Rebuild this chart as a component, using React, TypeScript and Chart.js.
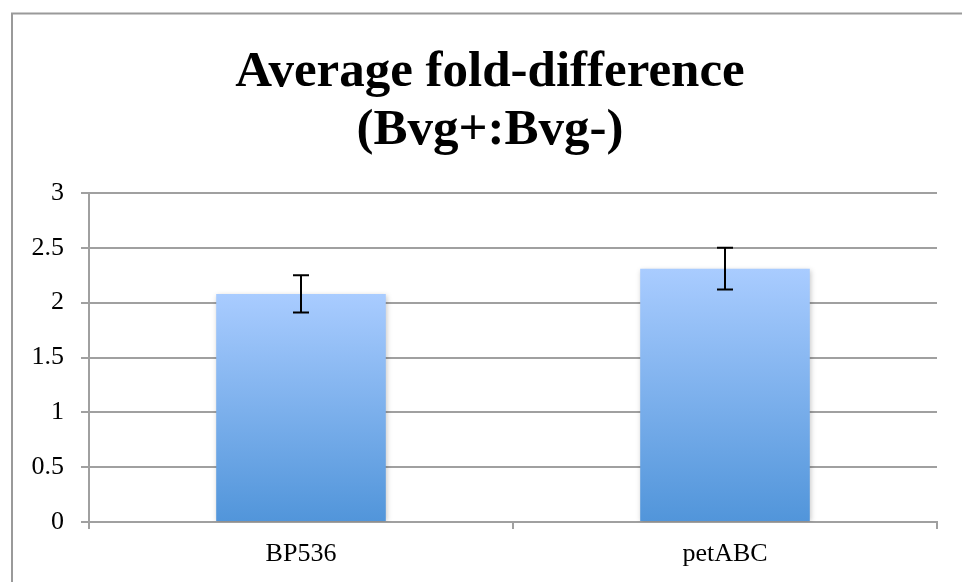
import React, { useEffect, useRef } from "react";
import { Chart, registerables } from "chart.js";

Chart.register(...registerables);

const categories = ["BP536", "petABC"];
const values = [2.08, 2.31];
const errors = [0.17, 0.19];
const titleLines = ["Average fold-difference", "(Bvg+:Bvg-)"];
const yMin = 0;
const yMax = 3;
const yStep = 0.5;

const SERIF = "'Liberation Serif', 'Times New Roman', serif";

const framePlugin = {
  id: "frame",
  beforeDraw(chart: any) {
    const ctx = chart.ctx;
    ctx.save();
    ctx.fillStyle = "#ffffff";
    ctx.fillRect(0, 0, chart.width, chart.height);
    ctx.strokeStyle = "#9a9a9a";
    ctx.lineWidth = 2;
    ctx.strokeRect(12, 13.5, chart.width + 100, chart.height + 100);
    ctx.restore();
  },
};

const titlePlugin = {
  id: "customTitle",
  afterDraw(chart: any) {
    const ctx = chart.ctx;
    ctx.save();
    ctx.fillStyle = "#000000";
    ctx.font = `bold 51px ${SERIF}`;
    ctx.textAlign = "center";
    ctx.textBaseline = "alphabetic";
    const cx = 490;
    const baselines = [86, 144];
    titleLines.forEach((t, i) => ctx.fillText(t, cx, baselines[i]));
    ctx.restore();
  },
};

const shadowPlugin = {
  id: "barShadow",
  beforeDatasetDraw(chart: any) {
    const ctx = chart.ctx;
    ctx.save();
    ctx.shadowColor = "rgba(0,0,0,0.22)";
    ctx.shadowBlur = 5;
    ctx.shadowOffsetX = 1;
    ctx.shadowOffsetY = 1;
  },
  afterDatasetDraw(chart: any) {
    chart.ctx.restore();
  },
};

const errorBarPlugin = {
  id: "errorBars",
  afterDatasetsDraw(chart: any) {
    const ctx = chart.ctx;
    const meta = chart.getDatasetMeta(0);
    const y = chart.scales.y;
    ctx.save();
    ctx.strokeStyle = "#000000";
    ctx.lineWidth = 2;
    meta.data.forEach((bar: any, i: number) => {
      const x = bar.x;
      const top = y.getPixelForValue(values[i] + errors[i]);
      const bottom = y.getPixelForValue(values[i] - errors[i]);
      const half = 8;
      ctx.beginPath();
      ctx.moveTo(x, top);
      ctx.lineTo(x, bottom);
      ctx.moveTo(x - half, top);
      ctx.lineTo(x + half, top);
      ctx.moveTo(x - half, bottom);
      ctx.lineTo(x + half, bottom);
      ctx.stroke();
    });
    ctx.restore();
  },
};

export default function App() {
  const ref = useRef<HTMLCanvasElement | null>(null);

  useEffect(() => {
    if (!ref.current) return;
    const chart = new Chart(ref.current, {
      type: "bar",
      data: {
        labels: categories,
        datasets: [
          {
            data: values,
            barPercentage: 0.4,
            categoryPercentage: 1,
            borderWidth: 0,
            backgroundColor: (c: any) => {
              const ch = c.chart;
              const ys = ch.scales && ch.scales.y;
              if (!ys || c.raw === undefined) return "#7fb0ee";
              const top = ys.getPixelForValue(c.raw);
              const base = ys.getPixelForValue(0);
              if (!isFinite(top) || !isFinite(base) || top === base) return "#7fb0ee";
              const g = ch.ctx.createLinearGradient(0, top, 0, base);
              g.addColorStop(0, "#a9ccff");
              g.addColorStop(1, "#5195da");
              return g;
            },
          },
        ],
      },
      options: {
        animation: false,
        responsive: false,
        maintainAspectRatio: false,
        layout: { padding: { left: 0, right: 25, top: 193, bottom: 0 } },
        plugins: {
          legend: { display: false },
          tooltip: { enabled: false },
          title: { display: false },
        },
        scales: {
          x: {
            offset: true,
            grid: {
              offset: true,
              drawOnChartArea: false,
              drawTicks: true,
              tickLength: 7,
              color: "#a0a0a0",
              lineWidth: 2,
            },
            border: { display: true, color: "#a0a0a0", width: 2 },
            ticks: {
              color: "#000000",
              font: { family: SERIF, size: 26 },
              padding: 10,
            },
            afterFit: (s: any) => {
              s.height = 60;
            },
          },
          y: {
            min: yMin,
            max: yMax,
            ticks: {
              stepSize: yStep,
              color: "#000000",
              font: { family: SERIF, size: 26 },
              padding: 17,
              callback: (v: any) => String(Number(v)),
            },
            grid: {
              color: "#a0a0a0",
              lineWidth: 2,
              tickLength: 8,
            },
            border: { display: true, color: "#a0a0a0", width: 2 },
            afterFit: (s: any) => {
              s.width = 89;
            },
          },
        },
      },
      plugins: [framePlugin, shadowPlugin, errorBarPlugin, titlePlugin],
    });
    return () => chart.destroy();
  }, []);

  return (
    <div style={{ position: "fixed", left: 0, top: 0, width: 962, height: 582, background: "#fff" }}>
      <canvas ref={ref} width={962} height={582} style={{ display: "block", width: 962, height: 582 }} />
    </div>
  );
}
